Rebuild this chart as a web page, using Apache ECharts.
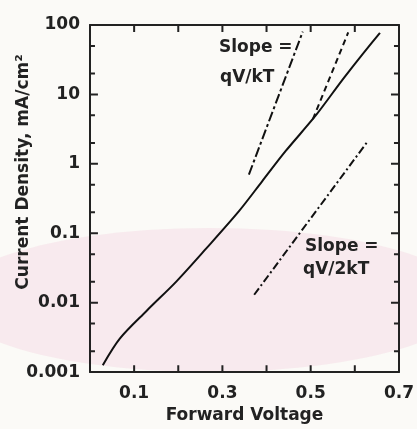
<!DOCTYPE html>
<html>
<head>
<meta charset="utf-8">
<script src="https://cdn.jsdelivr.net/npm/echarts@6/dist/echarts.min.js"></script>
<style>
html,body{margin:0;padding:0;background:#fbfaf7;}
#chart{width:417px;height:429px;}
</style>
</head>
<body>
<div id="chart"></div>
<script>
// Measured curve: forward voltage (V) vs current density (mA/cm^2)
const voltage = [0.029, 0.0675, 0.128, 0.196, 0.263, 0.338, 0.39, 0.443, 0.511, 0.578, 0.657];
const current = [0.00126, 0.00304, 0.0076, 0.0203, 0.06, 0.21, 0.56, 1.52, 4.93, 18.2, 77];

// Reference slope lines
const slopeKTVoltage = [0.36, 0.482];
const slopeKTCurrent = [0.7, 80];
const dashedVoltage = [0.505, 0.585];
const dashedCurrent = [4.4, 78];
const slope2KTVoltage = [0.372, 0.629];
const slope2KTCurrent = [0.013, 2.1];

// Axis ticks and labels
const xTickValues = [0.1, 0.2, 0.3, 0.4, 0.5, 0.6];
const xTickLabels = ['0.1', '0.3', '0.5', '0.7'];
const yMajorTicks = [0.001, 0.01, 0.1, 1, 10, 100];
const yTickLabels = ['0.001', '0.01', '0.1', '1', '10', '100'];
const yMinorTicks = [0.002, 0.005, 0.02, 0.05, 0.2, 0.5, 2, 5, 20, 50];

const X_MIN = 0, X_MAX = 0.7, Y_MIN = 0.001, Y_MAX = 100;
const pairs = (xs, ys) => xs.map((x, i) => [x, ys[i]]);

const FONT = 'DejaVu Sans';
const INK = '#222222';
const labelStyle = { fontFamily: FONT, fontWeight: 'bold', fontSize: 17, color: '#222' };
const TEXT_FONT = 'bold 17px "DejaVu Sans"';

// grid geometry (pixels) used only to turn tick lengths into axis units
const GRID = { left: 90, right: 16, top: 25, bottom: 52 };
const PLOT_W = 417 - GRID.left - GRID.right;
const PLOT_H = 429 - GRID.top - GRID.bottom;
const PX_PER_VOLT = PLOT_W / (X_MAX - X_MIN);
const PX_PER_DECADE = PLOT_H / (Math.log10(Y_MAX) - Math.log10(Y_MIN));

function frameAxisLine() {
  return { show: true, onZero: false, lineStyle: { color: INK, width: 2 } };
}

// Build inward tick segments (separated by gaps) in data space, drawn by a line series
function buildTickSegments() {
  const gap = ['-', '-'];
  const segs = [];
  const xLen = 7 / PX_PER_DECADE;           // vertical tick length in decades
  xTickValues.forEach(v => {
    segs.push([v, Y_MIN], [v, Y_MIN * Math.pow(10, xLen)], gap);
    segs.push([v, Y_MAX], [v, Y_MAX / Math.pow(10, xLen)], gap);
  });
  const addY = (v, px) => {
    const d = px / PX_PER_VOLT;
    segs.push([X_MIN, v], [X_MIN + d, v], gap);
    segs.push([X_MAX, v], [X_MAX - d, v], gap);
  };
  yMajorTicks.forEach(v => addY(v, 8));
  yMinorTicks.forEach(v => addY(v, 5));
  return segs;
}

const chart = echarts.init(document.getElementById('chart'));
chart.setOption({
  backgroundColor: '#fbfaf7',
  animation: false,
  grid: GRID,
  xAxis: [
    {
      type: 'value', min: X_MIN, max: X_MAX, interval: 0.1, position: 'bottom',
      name: 'Forward Voltage', nameLocation: 'middle', nameGap: 31,
      nameTextStyle: labelStyle,
      axisLine: frameAxisLine(),
      axisTick: { show: false },
      axisLabel: Object.assign({
        margin: 13, showMinLabel: true, showMaxLabel: true,
        formatter: function (v) {
          const s = v.toFixed(1);
          return xTickLabels.indexOf(s) >= 0 ? s : '';
        }
      }, labelStyle),
      splitLine: { show: false }
    },
    {
      type: 'value', min: X_MIN, max: X_MAX, interval: 0.1, position: 'top',
      axisLine: frameAxisLine(),
      axisTick: { show: false },
      axisLabel: { show: false },
      splitLine: { show: false }
    }
  ],
  yAxis: [
    {
      type: 'log', logBase: 10, min: Y_MIN, max: Y_MAX, position: 'left',
      axisLine: frameAxisLine(),
      axisTick: { show: false },
      axisLabel: Object.assign({
        margin: 10,
        formatter: function (v) {
          const i = Math.round(Math.log10(v)) + 3;
          return yTickLabels[i] || '';
        }
      }, labelStyle),
      splitLine: { show: false }
    },
    {
      type: 'log', logBase: 10, min: Y_MIN, max: Y_MAX, position: 'right',
      axisLine: frameAxisLine(),
      axisTick: { show: false },
      axisLabel: { show: false },
      splitLine: { show: false }
    }
  ],
  graphic: [
    { type: 'ellipse', silent: true, z: -10, shape: { cx: 210, cy: 300, rx: 260, ry: 72 },
      style: { fill: 'rgba(244,214,226,0.45)' } },
    { type: 'text', z: 10, x: 24, y: 172, rotation: Math.PI / 2,
      style: { text: 'Current Density, mA/cm²', font: TEXT_FONT, fill: '#222', align: 'center', verticalAlign: 'middle' } },
    { type: 'text', z: 10, x: 219, y: 48,
      style: { text: 'Slope =', font: TEXT_FONT, fill: '#222', align: 'left', verticalAlign: 'middle' } },
    { type: 'text', z: 10, x: 220, y: 78,
      style: { text: 'qV/kT', font: TEXT_FONT, fill: '#222', align: 'left', verticalAlign: 'middle' } },
    { type: 'text', z: 10, x: 305, y: 247,
      style: { text: 'Slope =', font: TEXT_FONT, fill: '#222', align: 'left', verticalAlign: 'middle' } },
    { type: 'text', z: 10, x: 303, y: 270,
      style: { text: 'qV/2kT', font: TEXT_FONT, fill: '#222', align: 'left', verticalAlign: 'middle' } }
  ],
  series: [
    { type: 'line', name: 'J-V', data: pairs(voltage, current), smooth: 0.3, symbol: 'none',
      lineStyle: { color: '#111', width: 2 } },
    { type: 'line', name: 'qV/kT', data: pairs(slopeKTVoltage, slopeKTCurrent), symbol: 'none',
      lineStyle: { color: '#111', width: 2, type: [10, 3, 3, 3] } },
    { type: 'line', name: 'qV/kT fit', data: pairs(dashedVoltage, dashedCurrent), symbol: 'none',
      lineStyle: { color: '#111', width: 2, type: [6, 4] } },
    { type: 'line', name: 'qV/2kT', data: pairs(slope2KTVoltage, slope2KTCurrent), symbol: 'none',
      lineStyle: { color: '#111', width: 2, type: [8, 3, 2, 3] } },
    { type: 'line', name: 'frame ticks', data: buildTickSegments(), symbol: 'none', silent: true,
      connectNulls: false, clip: false, smooth: false,
      lineStyle: { color: '#222', width: 2 } }
  ]
});
</script>
</body>
</html>
